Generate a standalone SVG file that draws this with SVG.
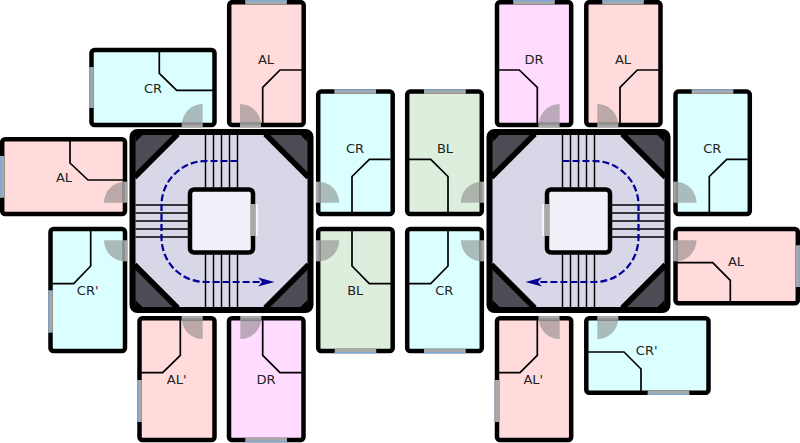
<svg xmlns="http://www.w3.org/2000/svg" xmlns:xlink="http://www.w3.org/1999/xlink" width="800" height="443" viewBox="0 0 800 443">
<style>
.r{stroke:#000;stroke-width:4.5}
.al{fill:#ffdbdb}.cr{fill:#dbffff}.dr{fill:#ffdbff}.bl{fill:#deeedd}
.w{fill:none;stroke:#000;stroke-width:1.7}
.g{fill:#a8a8a8}
.b{stroke:#78a8dc;stroke-width:1.2;fill:none}
.p{fill:#777;fill-opacity:.5}
text{font-family:"DejaVu Sans",sans-serif;font-size:13px;fill:#222;text-anchor:middle}
.l{stroke:#000;stroke-width:1.4;fill:none}
.d{stroke:#000;stroke-width:5.700;fill:none}
.o{stroke:#000;stroke-width:6;fill:none}
</style>
<defs>
<g id="core">
<rect x="-89" y="-89" width="178" height="178" rx="5" fill="#4d4c54"/>
<path d="M-44.8-87H44.8L87-44.8V44.8L44.800 87H-44.8L-87 44.8V-44.800Z" fill="#d7d7e8"/>
<path class="d" d="M-87-43.800L-43.800-87M87-43.800L43.800-87M-87 43.800L-43.800 87M87 43.800L43.800 87"/>
<path d="M-86-86H-79L-86-79ZM86-86H79L86-79ZM-86 86H-79L-86 79ZM86 86H79L86 79Z" fill="#000"/>
<rect x="-89" y="-89" width="178" height="178" rx="5" class="o"/>
<path class="l" d="M-16-86V-33M-8-86V-33M0-86V-33M8-86V-33M16-86V-33M-16 33V86M-8 33V86M0 33V86M8 33V86M16 33V86M-86-16H-33M-86-8H-33M-86 0H-33M-86 8H-33M-86 16H-33"/>
<rect x="-31.500" y="-31.500" width="63" height="63" rx="4" fill="#f1f0f8" stroke="#000" stroke-width="4.500"/>
<rect x="34" y="-17" width="2.500" height="32" fill="#f4f4f8"/>
<rect x="29.200" y="-17" width="5" height="32" class="g"/>
<path d="M16-60H-16C-40-60-60-40-60-16V16C-60 42-40 61-16 61H42" fill="none" stroke="#000099" stroke-width="2.200" stroke-dasharray="7 3"/>
<path d="M53 61L36.500 56.500L40.500 61L36.500 65.500Z" fill="#000099"/>
</g>
</defs>
<g id="core-left"><use xlink:href="#core" href="#core" transform="translate(221.5 221)"/></g>
<g id="core-right"><use xlink:href="#core" href="#core" transform="translate(578.500 221) scale(-1 1)"/></g>

<g id="room-cr-tl">
<rect class="r cr" x="91.500" y="50" width="123" height="75" rx="3"/>
<path class="w" d="M159.300 52V73.300L176.700 90.300H213"/>
<rect class="g" x="89.300" y="67" width="4.500" height="41"/><path class="b" d="M90 67V108"/>
<rect class="g" x="181.700" y="122.700" width="21" height="4.600"/><path class="p" d="M202.700 125H181.700A21 21 0 0 1 202.700 104Z"/>
<text x="153" y="92.700">CR</text>
</g>
<g id="room-al-t1">
<rect class="r al" x="229.200" y="2.200" width="74.500" height="122.800" rx="3"/>
<path class="w" d="M302 70H280L262.700 87.300V124"/>
<rect class="g" x="245.300" y="0" width="41.500" height="4.500"/><path class="b" d="M245.300 .8H286.800"/>
<rect class="g" x="240" y="122.700" width="21" height="4.600"/><path class="p" d="M240 125H261A21 21 0 0 0 240 104Z"/>
<text x="266" y="64">AL</text>
</g>
<g id="room-al-l">
<rect class="r al" x="2.200" y="139.300" width="122.800" height="74.700" rx="3"/>
<path class="w" d="M70 141V163L88 180H124"/>
<rect class="g" x="0" y="156" width="4.500" height="41.700"/><path class="b" d="M.8 156V197.700"/>
<rect class="g" x="122.700" y="181.700" width="4.600" height="21"/><path class="p" d="M125 202.700V181.700A21 21 0 0 0 104 202.700Z"/>
<text x="64" y="181.700">AL</text>
</g>
<g id="room-crp-l">
<rect class="r cr" x="50.500" y="229" width="74.500" height="122" rx="3"/>
<path class="w" d="M90.700 229V266L73.700 283.700H51"/>
<rect class="g" x="48.300" y="290.300" width="4.500" height="42.400"/><path class="b" d="M49 290.300V332.700"/>
<rect class="g" x="122.700" y="240.300" width="4.600" height="21"/><path class="p" d="M125 240.300V261.300A21 21 0 0 1 104 240.300Z"/>
<text x="87.700" y="294.700">CR'</text>
</g>
<g id="room-alp-b1">
<rect class="r al" x="139.500" y="318.200" width="75" height="121.800" rx="3"/>
<path class="w" d="M180.300 319V355.300L162.700 372.700H140"/>
<rect class="g" x="137.300" y="380" width="4.500" height="42"/><path class="b" d="M138 380V422"/>
<rect class="g" x="181.700" y="316" width="21" height="4.600"/><path class="p" d="M202.700 318.200H181.700A21 21 0 0 0 202.700 339Z"/>
<text x="176.700" y="384.300">AL'</text>
</g>
<g id="room-dr-b">
<rect class="r dr" x="229" y="318.200" width="74.500" height="121.800" rx="3"/>
<path class="w" d="M262.700 319V355.300L280 372.700H302"/>
<rect class="g" x="245.300" y="437.700" width="41.700" height="4.500"/><path class="b" d="M245.300 441.600H287"/>
<rect class="g" x="240.300" y="316" width="21" height="4.600"/><path class="p" d="M240.300 318.200H261.300A21 21 0 0 1 240.300 339Z"/>
<text x="266" y="384.300">DR</text>
</g>
<g id="room-bl-b">
<rect class="r bl" x="318.200" y="229" width="74.500" height="122" rx="3"/>
<path class="w" d="M352 229V266L369.300 283.700H392"/>
<rect class="g" x="334.700" y="348.800" width="41.500" height="4.500"/><path class="b" d="M334.700 352.700H376.200"/>
<rect class="g" x="316" y="240.300" width="4.600" height="21"/><path class="p" d="M318.200 240.300V261.300A21 21 0 0 0 339.200 240.300Z"/>
<text x="355.300" y="294.700">BL</text>
</g>
<g id="room-cr-r1">
<rect class="r cr" x="318.200" y="91.600" width="74.500" height="122.400" rx="3"/>
<path class="w" d="M390.400 159.300H369.400L352 176.500V213"/>
<rect class="g" x="334.400" y="89.300" width="41.600" height="4.500"/><path class="b" d="M334.400 90H376"/>
<rect class="g" x="316" y="181.700" width="4.600" height="21"/><path class="p" d="M318.200 202.700V181.700A21 21 0 0 1 339.200 202.700Z"/>
<text x="355" y="152.700">CR</text>
</g>

<g id="room-bl-t">
<rect class="r bl" x="407.200" y="91.600" width="74.600" height="122.400" rx="3"/>
<path class="w" d="M408 159.300H430.700L448 176.500V213"/>
<rect class="g" x="424" y="89.300" width="41.700" height="4.500"/><path class="b" d="M424 90H465.700"/>
<rect class="g" x="479.500" y="181.700" width="4.600" height="21"/><path class="p" d="M481.800 202.700V181.700A21 21 0 0 0 460.800 202.700Z"/>
<text x="445" y="152.700">BL</text>
</g>
<g id="room-dr-t">
<rect class="r dr" x="497" y="2.200" width="74.200" height="122.800" rx="3"/>
<path class="w" d="M498 70H519.300L537.300 87.300V124"/>
<rect class="g" x="513.300" y="0" width="41.400" height="4.500"/><path class="b" d="M513.300 .8H554.700"/>
<rect class="g" x="538.500" y="122.700" width="21" height="4.600"/><path class="p" d="M559.700 125H538.700A21 21 0 0 1 559.700 104Z"/>
<text x="534" y="64">DR</text>
</g>
<g id="room-al-t2">
<rect class="r al" x="586.300" y="2.200" width="74.200" height="122.800" rx="3"/>
<path class="w" d="M659 70H637.300L620 87.300V124"/>
<rect class="g" x="602.300" y="0" width="41.400" height="4.500"/><path class="b" d="M602.300 .8H643.700"/>
<rect class="g" x="597.300" y="122.700" width="21" height="4.600"/><path class="p" d="M597.300 125H618.300A21 21 0 0 0 597.300 104Z"/>
<text x="623" y="64">AL</text>
</g>
<g id="room-cr-r2">
<rect class="r cr" x="675.500" y="91.600" width="74.300" height="122.400" rx="3"/>
<path class="w" d="M747.700 159.300H726.700L709.300 176.500V213"/>
<rect class="g" x="691.700" y="89.300" width="41.600" height="4.500"/><path class="b" d="M691.700 90H733.300"/>
<rect class="g" x="673.300" y="181.700" width="4.600" height="21"/><path class="p" d="M675.500 202.700V181.700A21 21 0 0 1 696.500 202.700Z"/>
<text x="712.300" y="152.700">CR</text>
</g>
<g id="room-cr-b">
<rect class="r cr" x="407.200" y="229" width="74.600" height="122" rx="3"/>
<path class="w" d="M448 229V266L430.700 283.700H408"/>
<rect class="g" x="424" y="348.800" width="41.700" height="4.500"/><path class="b" d="M424 352.700H465.700"/>
<rect class="g" x="479.500" y="240.300" width="4.600" height="21"/><path class="p" d="M481.800 240.300V261.300A21 21 0 0 1 460.800 240.300Z"/>
<text x="444.300" y="294.700">CR</text>
</g>
<g id="room-al-r">
<rect class="r al" x="675.500" y="229" width="122.300" height="74.200" rx="3"/>
<path class="w" d="M676 262.700H712.700L730.300 280.300V302"/>
<rect class="g" x="795.500" y="245.300" width="4.500" height="41.700"/><path class="b" d="M799.300 245.300V287"/>
<rect class="g" x="673.300" y="240.300" width="4.600" height="21"/><path class="p" d="M675.500 240.300V261.300A21 21 0 0 0 696.500 240.300Z"/>
<text x="736" y="266">AL</text>
</g>
<g id="room-alp-b2">
<rect class="r al" x="497" y="318.200" width="74.200" height="121.800" rx="3"/>
<path class="w" d="M537.300 319V355.300L520 372.700H498"/>
<rect class="g" x="494.700" y="380" width="4.500" height="42"/><path class="b" d="M495.400 380V422"/>
<rect class="g" x="538.500" y="316" width="21" height="4.600"/><path class="p" d="M559.700 318.200H538.700A21 21 0 0 0 559.700 339Z"/>
<text x="533.300" y="384.300">AL'</text>
</g>
<g id="room-crp-b">
<rect class="r cr" x="586.300" y="318.200" width="122.200" height="74.600" rx="3"/>
<path class="w" d="M587 352H624L641 369V392"/>
<rect class="g" x="647.700" y="390.500" width="41.600" height="4.500"/><path class="b" d="M647.700 394.400H689.300"/>
<rect class="g" x="597.300" y="316" width="21" height="4.600"/><path class="p" d="M597.300 318.200H618.300A21 21 0 0 1 597.300 339Z"/>
<text x="646.700" y="355.300">CR'</text>
</g>
</svg>
